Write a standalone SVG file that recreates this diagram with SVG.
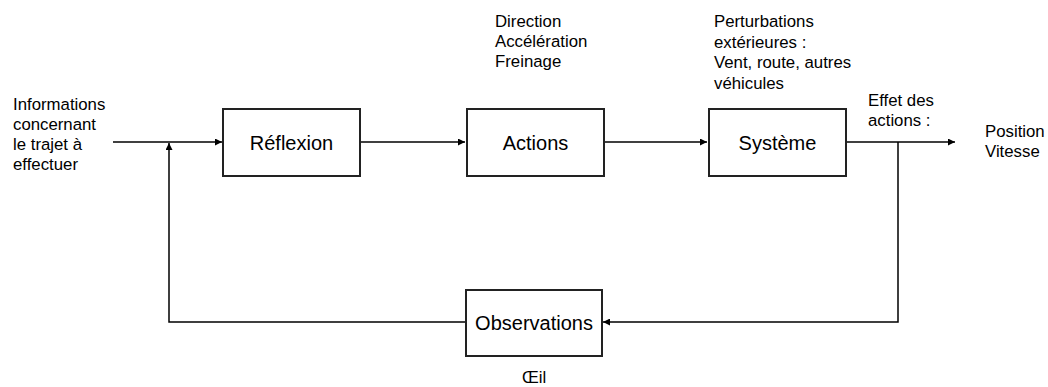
<svg xmlns="http://www.w3.org/2000/svg" width="1048" height="387" viewBox="0 0 1048 387">
<defs>
<marker id="arr" viewBox="0 0 10 10" refX="10" refY="5" markerWidth="8" markerHeight="7" markerUnits="userSpaceOnUse" orient="auto">
<path d="M0,0 L10,5 L0,10 z" fill="#000"/>
</marker>
</defs>
<style>
.box{fill:#fff;stroke:#222;stroke-width:2}
.lbl{font-family:"Liberation Sans",Arial,sans-serif;font-size:20px;fill:#000;text-anchor:middle}
.txt{font-family:"Liberation Sans",Arial,sans-serif;font-size:16.8px;fill:#000}
.ln{fill:none;stroke:#000;stroke-width:1.5}
</style>
<rect width="1048" height="387" fill="#fff"/>
<g id="connectors">
<line class="ln" x1="113" y1="142" x2="222" y2="142" marker-end="url(#arr)"/>
<line class="ln" x1="360" y1="142" x2="465" y2="142" marker-end="url(#arr)"/>
<line class="ln" x1="604" y1="142" x2="707" y2="142" marker-end="url(#arr)"/>
<line class="ln" x1="846" y1="142" x2="955" y2="142" marker-end="url(#arr)"/>
<polyline class="ln" points="898,142 898,322 603,322" marker-end="url(#arr)"/>
<polyline class="ln" points="466,322 169,322 169,143" marker-end="url(#arr)"/>
</g>
<g id="reflexion">
<rect class="box" x="223" y="109" width="137" height="67"/>
<text class="lbl" x="291.5" y="150">Réflexion</text>
</g>
<g id="actions">
<rect class="box" x="467" y="109" width="137" height="67"/>
<text class="lbl" x="535.5" y="150">Actions</text>
</g>
<g id="systeme">
<rect class="box" x="709" y="109" width="137" height="67"/>
<text class="lbl" x="777.5" y="150">Système</text>
</g>
<g id="observations">
<rect class="box" x="466" y="290" width="136" height="66"/>
<text class="lbl" x="534" y="330">Observations</text>
</g>
<g id="texts">
<text class="txt" x="13"><tspan x="13" y="110">Informations</tspan><tspan x="13" y="130">concernant</tspan><tspan x="13" y="150">le trajet à</tspan><tspan x="13" y="170">effectuer</tspan></text>
<text class="txt" x="495"><tspan x="495" y="27">Direction</tspan><tspan x="495" y="47">Accélération</tspan><tspan x="495" y="67">Freinage</tspan></text>
<text class="txt" x="714"><tspan x="714" y="27">Perturbations</tspan><tspan x="714" y="48">extérieures :</tspan><tspan x="714" y="68">Vent, route, autres</tspan><tspan x="714" y="89">véhicules</tspan></text>
<text class="txt" x="868"><tspan x="868" y="106">Effet des</tspan><tspan x="868" y="126">actions :</tspan></text>
<text class="txt" x="985"><tspan x="985" y="137">Position</tspan><tspan x="985" y="157">Vitesse</tspan></text>
<text class="txt" x="534" y="383" text-anchor="middle">Œil</text>
</g>
</svg>
